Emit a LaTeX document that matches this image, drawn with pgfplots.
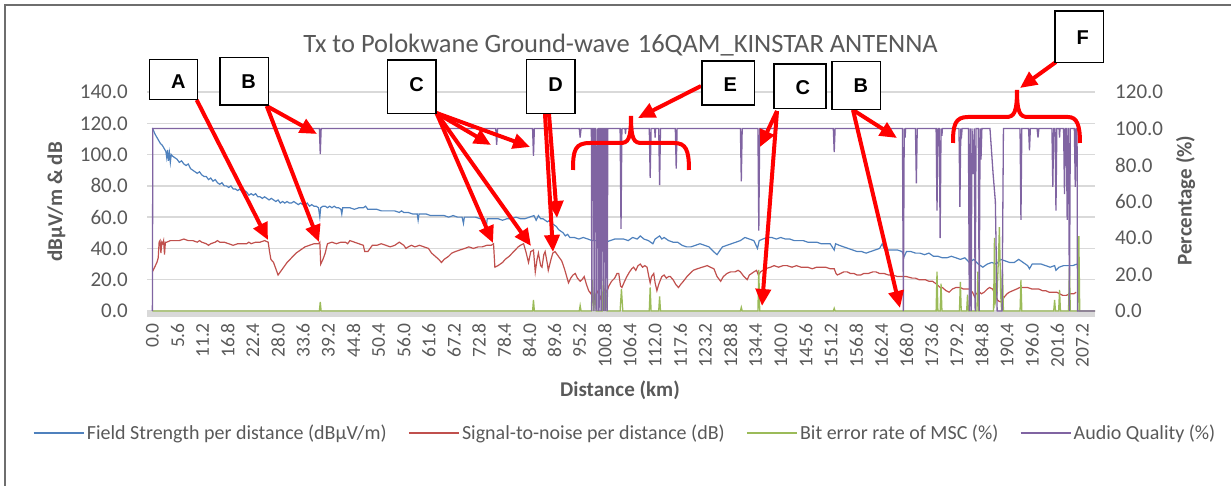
\documentclass[border=0pt]{standalone}
\usepackage{fontspec}
\setmainfont{Carlito}
\newfontfamily\arialfont{Liberation Sans}
\usepackage{pgfplots}
\pgfplotsset{compat=1.18}
\usetikzlibrary{arrows.meta}
\definecolor{fsblue}{RGB}{79,129,189}
\definecolor{snred}{RGB}{192,80,77}
\definecolor{bergreen}{RGB}{155,187,89}
\definecolor{aqpurple}{RGB}{128,100,162}
\definecolor{txtgray}{RGB}{89,89,89}
\definecolor{gridgray}{RGB}{217,217,217}
\definecolor{framegray}{RGB}{110,110,110}
\newcommand\fsTick{\fontsize{21bp}{25bp}\selectfont}
\newcommand\fsXTick{\fontsize{19.5bp}{23bp}\selectfont}
\newcommand\fsLab{\fontsize{21bp}{25bp}\selectfont\bfseries}
\newcommand\fsLeg{\fontsize{20bp}{24bp}\selectfont}
\newcommand\fsTitle{\fontsize{26.5bp}{30bp}\selectfont}
\newcommand\fsBox{\fontsize{20bp}{24bp}\selectfont\arialfont\bfseries}
\tikzset{
  redarrow/.style={red, line width=4bp, -{Triangle[length=17bp,width=15bp]}},
  redbrace/.style={red, line width=4bp},
  lbox/.style={draw=black, line width=1.5bp, fill=white},
}
\begin{document}
\begin{tikzpicture}
\path[use as bounding box] (0,0) rectangle (1231bp,486bp);
\begin{scope}[shift={(0bp,486bp)},x=1bp,y=-1bp]
  \draw[framegray, line width=1.5bp] (5,486) -- (5,5) -- (1231,5);
  \fill[gridgray] (147,311) rectangle (1095,317);
\end{scope}

\begin{axis}[
  at={(147bp,175bp)}, anchor=south west,
  scale only axis, width=948bp, height=219bp,
  xmin=-1.2, xmax=210, ymin=0, ymax=140,
  clip=false,
  axis line style={draw=none},
  tick style={draw=none},
  ytick={0,20,...,140},
  xtick={0,5.6,...,207.3},
  ymajorgrids, grid style={gridgray, line width=1.3bp},
  /pgf/number format/assume math mode=true,
  tick label style={font=\fsTick, text=txtgray,
    /pgf/number format/fixed, /pgf/number format/fixed zerofill,
    /pgf/number format/precision=1, /pgf/number format/assume math mode=true},
  x tick label style={font=\fsXTick, yshift=-12bp, rotate=90, anchor=east, inner sep=0pt},
  y tick label style={anchor=east, inner sep=0pt, xshift=-19bp},
]
% Field strength (dBuV/m)
\addplot[fsblue, line width=1.2bp] coordinates {
(0,117) (0.3,115) (0.6,113) (1.0,111) (1.4,109) (1.8,107) (2.2,106) (2.6,104) (3.0,102) (3.2,98) (3.4,103) (3.6,96) (3.8,101) (4.0,95) (4.2,100) (4.5,99) (5.0,98) (5.5,97) (6.0,95) (6.5,96) (7.0,94) (7.5,93) (8.0,94) (8.5,91) (9.0,90) (9.5,89) (10.0,88) (10.5,89) (11.0,87) (11.5,86) (12.0,86) (12.5,84) (13.0,85) (13.5,83) (14.0,84) (14.5,82) (15.0,81) (15.5,82) (16.0,80) (16.5,80) (17.0,79) (17.5,80) (18.0,78) (18.5,78) (19.0,77) (19.5,78) (20.0,76) (20.5,77) (21.0,76) (21.5,74) (22.0,75) (22.5,74) (23.0,75) (23.5,73) (24.0,73) (24.5,72) (25.0,73) (25.5,72) (26.0,71) (26.5,72) (27.0,71) (27.5,70) (28.0,71) (28.5,69) (29.0,70) (29.5,69) (30.0,70) (30.5,69) (31.0,69) (31.5,70) (32.0,69) (32.5,68) (33.0,69) (33.5,68) (34.0,68) (34.5,69) (35.0,67) (35.5,68) (36.0,67) (36.5,67) (37.0,66) (37.3,60) (37.5,66) (38.0,67) (38.5,67) (39.0,66) (39.5,67) (40.0,66) (40.5,67) (41.0,66) (41.5,66) (42.0,65) (42.2,62) (42.4,66) (43.0,66) (44.0,66) (45.0,65) (46.0,66) (47.0,66) (47.5,67) (48.0,65) (49.0,65) (50.0,65) (51.0,64) (52.0,64) (53.0,64) (54.0,64) (55.0,63) (55.5,64) (56.0,63) (57.0,63) (58.0,62) (59.0,62) (59.2,58) (59.4,62) (60.0,62) (61.0,62) (62.0,61) (63.0,61) (64.0,61) (65.0,61) (66.0,60) (67.0,61) (68.0,60) (69.0,60) (69.3,56) (69.5,60) (70.0,60) (71.0,60) (72.0,60) (73.0,59) (74.0,59) (74.4,54) (74.6,59) (75.0,59) (76.0,59) (77.0,59) (78.0,58) (79.0,59) (80.0,59) (81.0,60) (82.0,59) (83.0,59) (84.0,60) (85.0,61) (85.5,58) (86.0,61) (86.5,59) (87.0,59) (87.5,58) (88.0,57) (88.5,58) (89.0,56) (89.5,55) (90.0,54) (90.5,52) (91.0,51) (91.5,50) (92.0,48) (92.5,49) (93.0,47) (94.0,47) (95.0,46) (96.0,47) (97.0,46) (98.0,45) (99.0,45) (100.0,46) (101.0,44) (102.0,45) (103.0,46) (104.0,46) (105.0,46) (106.0,45) (107.0,47) (108.0,46) (108.7,48) (109.5,46) (110.5,45) (111.5,43) (112.0,46) (113.0,48) (113.5,46) (114.0,47) (115.0,45) (116.0,44) (117.0,44) (118.0,42) (119.0,41) (120.0,41) (121.0,42) (122.0,43) (123.0,42) (124.0,41) (125.0,38) (125.8,36) (126.5,39) (127.0,41) (128.0,42) (129.0,43) (130.0,44) (131.0,45) (132.0,47) (133.0,46) (134.0,45) (134.8,40) (135.2,45) (136.0,46) (137.0,47) (138.0,47) (139.0,46) (140.0,47) (141.0,46) (142.0,46) (143.0,45) (144.0,45) (145.0,45) (146.0,44) (147.0,44) (148.0,44) (149.0,43) (150.0,43) (151.0,43) (151.9,39) (152.2,43) (153.0,42) (154.0,41) (155.0,40) (156.0,39) (157.0,38) (158.0,38) (159.0,37) (160.0,38) (161.0,39) (162.0,40) (162.6,43) (163.0,40) (164.0,39) (165.0,39) (166.0,39) (167.0,38) (167.5,35) (168.0,38) (169.0,38) (170.0,37) (171.0,37) (172.0,36) (173.0,37) (174.0,35) (175.0,35) (176.0,34) (177.0,34) (178.0,35) (179.0,34) (180.0,33) (181.0,34) (182.0,31) (183.0,33) (184.0,30) (185.0,28) (186.0,30) (187.0,31) (188.0,30) (189.0,33) (190.0,32) (191.0,31) (192.0,31) (193.0,33) (194.0,31) (195.0,29) (195.4,27) (196.0,30) (197.0,30) (198.0,30) (199.0,29) (200.0,28) (201.0,29) (201.3,26) (202.0,28) (203.0,29) (204.0,29) (205.0,29) (206.0,30)
};
% Signal-to-noise (dB)
\addplot[snred, line width=1.2bp] coordinates {
(0,25) (0.5,28) (1.0,31) (1.3,34) (1.5,44) (1.7,45) (1.9,37) (2.1,44) (2.3,43) (2.5,45) (2.7,36) (2.9,44) (3.2,44) (4,45) (5,45) (6,45) (7,46) (8,45) (9,45) (10,44) (10.5,45) (11,44) (12,43) (12.5,42) (13,43) (14,44) (14.5,45) (15,44) (16,44) (17,43) (18,42) (19,43) (20,43) (21,43) (21.5,44) (22,43) (23,44) (24,44) (25,45) (25.8,44) (26.1,38) (26.4,33) (27.0,31) (27.5,27) (28.0,23) (28.5,25) (29.0,27) (29.5,29) (30.0,31) (31.0,34) (32.0,37) (33.0,39) (34.0,41) (35.0,42) (36.0,43) (37.0,43) (37.3,44) (37.5,30) (38.0,33) (38.5,37) (39.0,43) (40.0,44) (41.0,43) (42.0,44) (43.0,44) (43.5,43) (44.0,45) (45.0,44) (46.0,43) (47.0,42) (47.3,38) (48.0,38) (48.5,40) (49.0,42) (50.0,42) (51.0,43) (52.0,42) (53.0,41) (54.0,42) (55.0,44) (56.0,42) (56.5,40) (57.0,41) (57.7,42) (58.5,41) (59.5,42) (60.5,41) (61.5,40) (62.2,37) (63.0,35) (63.8,33) (64.4,31) (65.0,33) (66.0,35) (66.7,37) (67.5,38) (68.5,39) (69.6,40) (70.5,41) (71.5,40) (72.6,41) (73.5,41) (74.5,42) (75.5,42) (76.0,43) (76.3,28) (77.0,29) (78.0,31) (78.6,33) (79.5,35) (80.5,38) (81.5,41) (82.0,42) (82.7,43) (83.2,38) (83.8,31) (84.3,38) (84.9,39) (85.3,25) (85.7,33) (86.0,37) (86.5,29) (86.8,28) (87.2,36) (87.5,38) (88.0,30) (88.2,26) (88.8,33) (89.2,37) (89.7,38) (90.2,36) (90.7,34) (91.2,32) (91.8,27) (92.3,22) (92.7,18) (93.2,21) (93.7,23) (94.2,24) (94.7,21) (95.3,19) (95.7,20) (96.2,22) (96.7,17) (97.2,13) (97.7,11) (98.0,14) (98.3,6) (98.8,10) (99.3,13) (99.8,8) (100.2,11) (100.8,14) (101.2,12) (101.7,16) (102.3,19) (103.0,21) (103.5,24) (103.9,24) (104.3,16) (104.6,15) (105.2,19) (105.7,22) (106.3,25) (106.8,27) (107.2,28) (107.7,26) (108.2,29) (108.7,30) (109.2,28) (109.7,29) (110.2,28) (110.6,22) (110.9,18) (111.2,22) (111.7,24) (112.0,18) (112.4,13) (112.8,17) (113.2,20) (113.5,22) (114.0,23) (114.5,21) (115.0,22) (115.4,22) (116.0,20) (116.6,17) (117.2,15) (117.7,17) (118.3,19) (119.1,22) (119.8,24) (120.5,26) (121.4,27) (122.5,28) (123.6,29) (124.3,28) (125.1,27) (125.8,22) (126.6,19) (127.2,22) (128.0,24) (128.8,25) (129.8,25) (130.5,26) (131.0,25) (131.8,22) (132.5,20) (133.0,23) (134.0,25) (134.6,26) (135.0,23) (135.5,25) (136.5,27) (137.7,28) (138.5,29) (139.5,28) (140.5,29) (141.4,29) (142.5,28) (143.5,29) (144.5,28) (145.2,28) (146.0,28) (147.0,27) (148.0,28) (148.9,28) (150.0,28) (151.0,27) (151.9,27) (152.3,24) (152.6,23) (153.3,24) (154.0,25) (154.8,25) (155.5,24) (156.3,24) (157.0,23) (157.8,23) (158.5,24) (159.5,24) (160.5,25) (161.2,25) (162.0,24) (163.0,24) (164.0,23) (164.9,23) (166.0,22) (167.0,22) (168.0,22) (169.3,21) (170.0,21) (170.8,20) (171.5,20) (172.2,20) (173.0,19) (173.8,19) (174.8,17) (175.5,15) (176.0,15) (176.8,13) (177.5,12) (178.2,14) (179.0,15) (180.0,15) (180.7,14) (181.3,14) (182.0,14) (182.7,12) (183.2,9) (183.5,11) (184.3,12) (184.7,11) (185.3,12) (186.0,14) (186.5,15) (187.2,14) (187.8,10) (188.3,7) (188.7,6) (189.2,6) (189.8,9) (190.4,11) (190.9,12) (191.7,13) (192.5,14) (193.2,15) (193.9,15) (195.0,15) (196.0,14) (196.9,14) (197.5,14) (198.3,13) (199.0,13) (199.8,12) (200.4,12) (201.0,12) (201.5,12) (202.1,11) (202.8,10) (203.2,10) (203.6,10) (204.5,11) (205.3,11) (205.8,12)
};
\end{axis}

\begin{axis}[
  at={(147bp,175bp)}, anchor=south west,
  scale only axis, width=948bp, height=219bp,
  xmin=-1.2, xmax=210, ymin=0, ymax=120,
  clip=false,
  axis line style={draw=none},
  tick style={draw=none},
  xtick=\empty,
  ytick={0,20,...,120},
  ytick pos=right, yticklabel pos=right,
  /pgf/number format/assume math mode=true,
  tick label style={font=\fsTick, text=txtgray,
    /pgf/number format/fixed, /pgf/number format/fixed zerofill,
    /pgf/number format/precision=1, /pgf/number format/assume math mode=true},
  y tick label style={anchor=west, inner sep=0pt, xshift=20bp},
  legend style={at={(0.5047,-0.557)}, anchor=center, draw=none, fill=none,
    legend columns=4, font=\fsLeg, text=txtgray, inner sep=0pt, outer sep=0pt,
    nodes={inner sep=2.5bp},
    /tikz/every even column/.append style={column sep=19bp}},
  legend image code/.code={\draw[#1, line width=1.3bp] (0bp,0bp) -- (50bp,0bp);},
]
\addlegendimage{fsblue}
\addlegendentry{Field Strength per distance (dBµV/m)}
\addlegendimage{snred}
\addlegendentry{Signal-to-noise per distance (dB)}
% Bit error rate of MSC (%)
\addplot[bergreen, line width=1.3bp] coordinates {
(0,0) (37.2,0) (37.4,5) (37.6,0) (84.7,0) (84.9,6) (85.1,0) (95.1,0) (95.3,3) (95.5,0) (97.8,0) (98.0,17) (98.3,0) (98.6,10) (98.9,0) (100.2,0) (100.5,19) (100.8,0) (101.0,12) (101.3,0) (104.2,0) (104.5,12) (104.8,0) (110.7,0) (110.9,13) (111.1,0) (112.8,0) (113.0,8) (113.2,0) (131.0,0) (131.2,2) (131.4,0) (134.9,0) (135.1,22.5) (135.3,0) (151.7,0) (151.9,1.5) (152.1,0) (174.6,0) (174.8,21.5) (175.0,0) (175.5,0) (175.7,15) (175.9,0) (179.8,0) (180.0,16) (180.2,0) (181.4,0) (181.6,9) (181.8,0) (183.7,0) (183.9,21.5) (184.1,0) (187.4,0) (187.6,40) (187.8,5) (188.2,10) (188.5,30) (188.7,46) (189.0,8) (189.2,0) (189.4,21.5) (189.6,0) (193.3,0) (193.5,17) (193.7,0) (200.8,0) (201.0,6) (201.2,0) (201.9,0) (202.1,11.5) (202.3,0) (204.1,0) (204.3,24) (204.5,0) (206.2,0) (206.4,41) (206.6,0) (210,0)
};
\addlegendentry{Bit error rate of MSC (\%)}
% Audio quality (%)
\addplot[aqpurple, line width=1.3bp] coordinates {
(0,0) (0.1,100) (37.2,100) (37.4,86) (37.6,100) (76.5,100) (76.7,91) (76.9,100) (84.7,100) (84.9,85) (85.1,100) (95.1,100) (95.3,95) (95.5,100) (97.8,100) (97.9,0) (98.0,100) (98.3,100) (98.4,0) (98.5,100) (98.75,100) (98.85,0) (98.95,60) (99.2,100) (99.3,0) (99.4,100) (99.6,100) (99.7,0) (99.8,100) (100.0,100) (100.1,0) (100.2,100) (100.45,100) (100.55,0) (100.65,100) (100.85,100) (100.95,0) (101.05,100) (101.25,100) (101.35,0) (101.45,100) (104.2,100) (104.4,45) (104.6,100) (105.3,100) (105.4,97) (105.5,100) (110.7,100) (110.9,73) (111.1,100) (111.9,100) (112.0,95) (112.1,100) (112.8,100) (113.0,69) (113.2,100) (116.5,100) (116.7,78) (116.9,100) (131.0,100) (131.2,71) (131.4,100) (134.9,100) (135.1,44) (135.3,100) (151.7,100) (151.9,87) (152.1,100) (167.1,100) (167.3,0) (167.5,100) (167.7,95) (167.8,100) (170.0,100) (170.2,70) (170.4,100) (174.6,100) (174.8,55) (175.0,100) (175.3,100) (175.5,40) (175.7,100) (175.9,96) (176.0,100) (179.7,100) (179.9,57) (180.1,100) (180.3,97) (180.4,100) (181.8,100) (182.0,0) (182.2,100) (182.4,0) (182.6,100) (182.9,75) (183.1,100) (183.3,0) (183.5,100) (184.0,100) (184.2,0) (184.4,100) (184.6,83) (184.8,100) (186.6,100) (187.3,75) (187.8,60) (188.2,0) (189.3,0) (189.6,100) (193.3,100) (193.5,50) (193.7,100) (195.2,100) (195.4,88) (195.6,100) (197.1,100) (197.3,95) (197.5,100) (200.4,100) (200.6,68) (200.8,100) (201.1,100) (201.3,55) (201.5,100) (202.0,100) (202.1,95) (202.2,100) (203.0,100) (203.2,64) (203.4,100) (203.6,100) (203.8,50) (204.0,100) (204.1,100) (204.3,0) (204.5,100) (205.4,100) (205.6,68) (205.8,100) (206.0,100) (206.1,0) (210,0)
};
\addlegendentry{Audio Quality (\%)}
\end{axis}

\begin{scope}[shift={(0bp,486bp)},x=1bp,y=-1bp]
  % title and axis titles
  \node[anchor=base, text=txtgray, font=\fsTitle, inner sep=0pt] at (620.5,52.7) {Tx to Polokwane Ground-wave\hspace{2bp} 16QAM\_KINSTAR ANTENNA};
  \node[anchor=base, text=txtgray, font=\fsLab, inner sep=0pt] at (620,397) {Distance (km)};
  \node[anchor=base, rotate=90, text=txtgray, font=\fsLab, inner sep=0pt] at (62,202) {dBµV/m \& dB};
  \node[anchor=base, rotate=90, text=txtgray, font=\fsLab, inner sep=0pt] at (1191.5,200.5) {Percentage (\%)};
  % braces
  \draw[redbrace] (573,170) .. controls (573,150) and (575,143) .. (590,143) -- (620,143) .. controls (628,143) and (631,140) .. (631,116) .. controls (631,140) and (634,143) .. (642,143) -- (674,143) .. controls (686,143) and (689,150) .. (689,170);
  \draw[redbrace] (953,143) .. controls (953,125) and (955,117) .. (968,117) -- (1006,117) .. controls (1014,117) and (1017,113) .. (1017,90) .. controls (1017,113) and (1020,117) .. (1028,117) -- (1068,117) .. controls (1077,117) and (1080,125) .. (1080,143);
  % arrows
  \draw[redarrow] (196.7,100) -- (268,240);
  \draw[redarrow] (266.7,106) -- (317,134);
  \draw[redarrow] (266.7,106) -- (319,242);
  \draw[redarrow] (436.5,113) -- (491,145);
  \draw[redarrow] (436.5,113) -- (530,147);
  \draw[redarrow] (436.5,113) -- (493,243);
  \draw[redarrow] (436.5,113) -- (531,246);
  \draw[redarrow] (549,114) -- (557,218);
  \draw[redarrow] (545,114) -- (553,252);
  \draw[redarrow] (701,86) -- (638,118);
  \draw[redarrow] (777,111) -- (760,147);
  \draw[redarrow] (777,111) -- (762,306);
  \draw[redarrow] (853,110) -- (897,138);
  \draw[redarrow] (853,110) -- (900,308);
  \draw[redarrow] (1056,62) -- (1020,88);
  % boxes
  \draw[lbox] (149.3,59.3) rectangle (197.7,99.3);
  \node[inner sep=0pt, font=\fsBox] at (178.3,82) {A};
  \draw[lbox] (220,57.7) rectangle (268.3,105);
  \node[inner sep=0pt, font=\fsBox] at (248.7,82) {B};
  \draw[lbox] (387.7,60) rectangle (436,113.3);
  \node[inner sep=0pt, font=\fsBox] at (416.7,85) {C};
  \draw[lbox] (526.7,59.3) rectangle (575,113.3);
  \node[inner sep=0pt, font=\fsBox] at (555.5,85) {D};
  \draw[lbox] (702,61) rectangle (754.3,105);
  \node[inner sep=0pt, font=\fsBox] at (730.3,85) {E};
  \draw[lbox] (774,64) rectangle (826,108.3);
  \node[inner sep=0pt, font=\fsBox] at (802.8,88) {C};
  \draw[lbox] (832,61.7) rectangle (880.7,109.3);
  \node[inner sep=0pt, font=\fsBox] at (860.8,85.8) {B};
  \draw[lbox] (1055,11) rectangle (1103.7,62.3);
  \node[inner sep=0pt, font=\fsBox] at (1082.7,37.5) {F};
\end{scope}
\end{tikzpicture}
\end{document}
